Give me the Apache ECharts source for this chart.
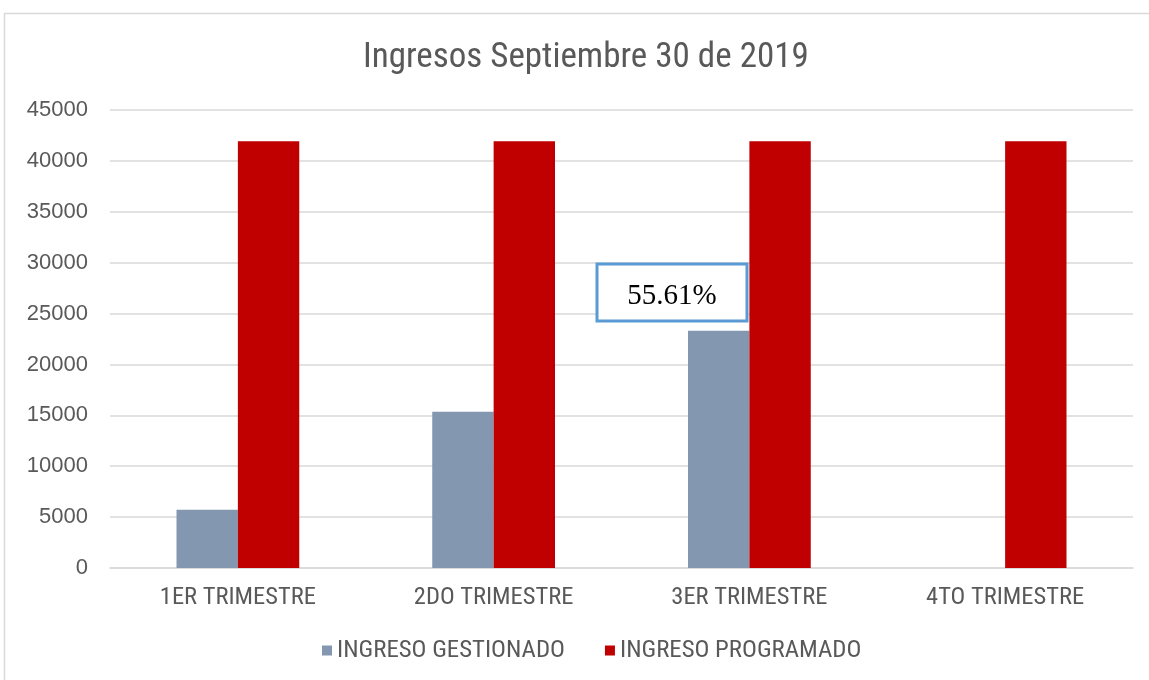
<!DOCTYPE html>
<html><head><meta charset="utf-8">
<script src="https://cdn.jsdelivr.net/npm/echarts@6/dist/echarts.min.js"></script>
<style>html,body{margin:0;padding:0;background:#fff}#c{width:1149px;height:680px}</style>
</head><body><div id="c"></div>
<script>
const categories = ['1ER TRIMESTRE','2DO TRIMESTRE','3ER TRIMESTRE','4TO TRIMESTRE'];
const gestionado = [5730, 15360, 23317, null];
const programado = [41930, 41930, 41930, 41930];
const yTicks = [0,5000,10000,15000,20000,25000,30000,35000,40000,45000];
const FONT = '"Liberation Sans Narrow", "Arial Narrow", "Roboto Condensed", "Liberation Sans", sans-serif';
const chart = echarts.init(document.getElementById('c'));
chart.setOption({
  animation:false,
  title:{text:'Ingresos Septiembre 30 de 2019',left:358,top:36,
    textStyle:{fontFamily:FONT,fontSize:35,fontWeight:'normal',color:'#595959'}},
  graphic:[
    {type:'rect',shape:{x:4.5,y:13.5,width:1160,height:700},style:{fill:'none',stroke:'#d9d9d9',lineWidth:1.5},z:-1},
    {type:'rect',shape:{x:597,y:264,width:150,height:57},style:{fill:'#fff',stroke:'#5b9bd5',lineWidth:3},z:100},
    {type:'text',x:672,y:296,style:{text:'55.61%',fill:'#000',font:'29px "Liberation Serif", "Times New Roman", serif',align:'center',verticalAlign:'middle'},z:101}
  ],
  legend:{top:633,left:317,itemWidth:10,itemHeight:10,itemGap:40,icon:'rect',
    textStyle:{fontFamily:FONT,fontSize:24.8,color:'#595959'},
    data:['INGRESO GESTIONADO','INGRESO PROGRAMADO']},
  grid:{left:110,right:16,top:110,bottom:112,containLabel:false},
  xAxis:{type:'category',data:categories,
    axisLine:{lineStyle:{color:'#d9d9d9',width:1.5}},axisTick:{show:false},
    axisLabel:{fontFamily:FONT,fontSize:24.5,color:'#595959',margin:17}},
  yAxis:{type:'value',min:0,max:45000,interval:5000,
    axisLine:{show:false},axisTick:{show:false},
    splitLine:{lineStyle:{color:'#d9d9d9',width:1.5}},
    axisLabel:{fontFamily:'"Liberation Sans", Arial, sans-serif',fontSize:22,color:'#595959',margin:22,
      customValues:yTicks,formatter:function(v){return String(v);}}},
  series:[
    {name:'INGRESO GESTIONADO',type:'bar',data:gestionado,barWidth:'24%',barGap:'0%',
      itemStyle:{color:'#8497b0'}},
    {name:'INGRESO PROGRAMADO',type:'bar',data:programado,barWidth:'24%',
      itemStyle:{color:'#c00000'}}
  ]
});
</script></body></html>
